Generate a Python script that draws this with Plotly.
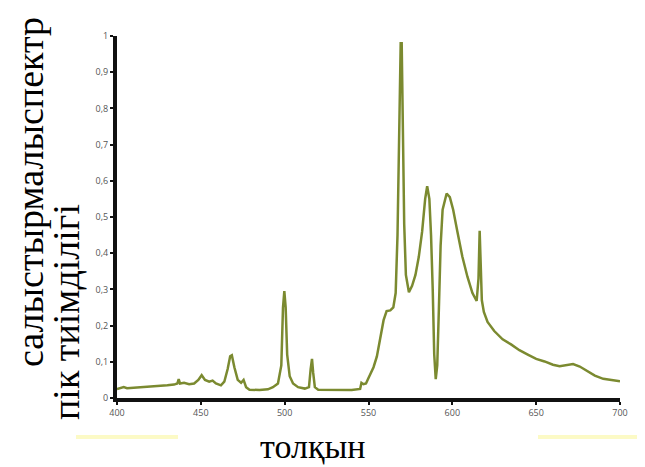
import plotly.graph_objects as go

wavelength = [400, 402, 404, 406, 410, 415, 420, 425, 430, 434, 436, 436.8, 437.6, 440, 443, 446,
              448.5, 450.5, 452.5, 455, 457, 459, 462, 464, 466, 467.5, 468.5, 470, 472, 474,
              475.5, 477, 479, 485, 490, 493, 496, 498, 499, 499.8, 500.6, 501.5, 503, 505, 508,
              512, 514.5, 515.5, 516.3, 517, 518, 520, 530, 540, 545, 545.8, 547, 548.5, 550,
              553, 555, 557, 559, 560.8, 563, 564.8, 566.2, 567.3, 568.3, 569.2, 569.8, 570.5,
              571.3, 572.3, 574.1, 576, 578, 580, 582, 583.8, 585, 586.3, 587.3, 588.3, 589.2,
              590.1, 591, 592, 593, 594.2, 596.6, 598.5, 600.5, 603, 606, 609, 612, 614.5,
              615.6, 616.3, 616.9, 617.6, 618.8, 621, 625, 630, 635, 640, 645, 650, 655, 660,
              664, 668, 672, 676, 680, 685, 690, 695, 700]
intensity = [0.025, 0.027, 0.030, 0.027, 0.028, 0.030, 0.031, 0.033, 0.035, 0.037, 0.040, 0.052,
             0.040, 0.042, 0.038, 0.040, 0.050, 0.063, 0.050, 0.045, 0.048, 0.040, 0.035, 0.045,
             0.080, 0.115, 0.118, 0.085, 0.050, 0.042, 0.050, 0.030, 0.023, 0.022, 0.024, 0.030,
             0.040, 0.090, 0.250, 0.295, 0.250, 0.120, 0.060, 0.040, 0.030, 0.026, 0.030, 0.080,
             0.108, 0.070, 0.030, 0.023, 0.022, 0.022, 0.025, 0.042, 0.038, 0.040, 0.055, 0.085,
             0.115, 0.160, 0.215, 0.240, 0.242, 0.250, 0.290, 0.450, 0.750, 0.980, 0.980, 0.750,
             0.480, 0.340, 0.292, 0.310, 0.340, 0.390, 0.460, 0.550, 0.585, 0.550, 0.450, 0.300,
             0.120, 0.052, 0.090, 0.250, 0.420, 0.520, 0.565, 0.555, 0.520, 0.460, 0.390, 0.335,
             0.290, 0.268, 0.330, 0.462, 0.380, 0.270, 0.238, 0.210, 0.185, 0.162, 0.148, 0.132,
             0.120, 0.108, 0.101, 0.092, 0.088, 0.092, 0.094, 0.087, 0.075, 0.062, 0.053, 0.049,
             0.046]

x_ticks = [400, 450, 500, 550, 600, 650, 700]
y_ticks = [0, 0.1, 0.2, 0.3, 0.4, 0.5, 0.6, 0.7, 0.8, 0.9, 1]
y_tick_labels = ["0", "0,1", "0,2", "0,3", "0,4", "0,5", "0,6", "0,7", "0,8", "0,9", "1"]

y_title_1 = "салыстырмалыспектр"
y_title_2 = "пік тиімділігі"
x_title = "толқын"

# page body has an 8px default margin; size the figure to fill the rest of the window
W, H, OFF = 645, 467, 8
PL, PR, PT, PB = 117, 620, 36, 398   # plot-area edges in window pixels


def px(xw):
    return (xw - PL) / (PR - PL)


def py(yw):
    return (PB - yw) / (PB - PT)


fig = go.Figure()
fig.add_trace(go.Scatter(
    x=wavelength, y=intensity, mode="lines",
    line=dict(color="#7b8a30", width=2.5),
    hoverinfo="skip", showlegend=False,
))

fig.update_layout(
    width=W - OFF, height=H - OFF,
    margin=dict(l=PL - OFF, r=W - PR, t=PT - OFF, b=H - PB),
    paper_bgcolor="white", plot_bgcolor="white",
    xaxis=dict(
        range=[400, 700], tickvals=x_ticks, ticktext=[str(v) for v in x_ticks],
        showgrid=False, zeroline=False, showline=True, linecolor="#111", linewidth=4,
        ticks="outside", ticklen=3, tickwidth=2, tickcolor="#111",
        tickfont=dict(family="Open Sans", size=9, color="#555"),
    ),
    yaxis=dict(
        range=[0, 1], tickvals=y_ticks, ticktext=y_tick_labels,
        showgrid=False, zeroline=False, showline=True, linecolor="#111", linewidth=4,
        ticks="outside", ticklen=3, tickwidth=2, tickcolor="#111",
        tickfont=dict(family="Open Sans", size=9, color="#555"),
    ),
    shapes=[
        dict(type="rect", xref="paper", yref="paper", x0=px(76), x1=px(178), y0=py(439), y1=py(435),
             fillcolor="#fcfac6", line=dict(width=0), layer="below"),
        dict(type="rect", xref="paper", yref="paper", x0=px(538), x1=px(645), y0=py(439), y1=py(435),
             fillcolor="#fcfac6", line=dict(width=0), layer="below"),
    ],
    annotations=[
        dict(text=y_title_1, xref="paper", yref="paper", x=px(30), y=py(192),
             xanchor="center", yanchor="middle", textangle=-90, showarrow=False,
             font=dict(family="Liberation Serif", size=38, color="black")),
        dict(text=y_title_2, xref="paper", yref="paper", x=px(66), y=py(312),
             xanchor="center", yanchor="middle", textangle=-90, showarrow=False,
             font=dict(family="Liberation Serif", size=38, color="black")),
        dict(text=x_title, xref="paper", yref="paper", x=px(313), y=py(446),
             xanchor="center", yanchor="middle", showarrow=False,
             font=dict(family="Liberation Serif", size=34, color="black")),
    ],
)

fig.write_html("out.html")
